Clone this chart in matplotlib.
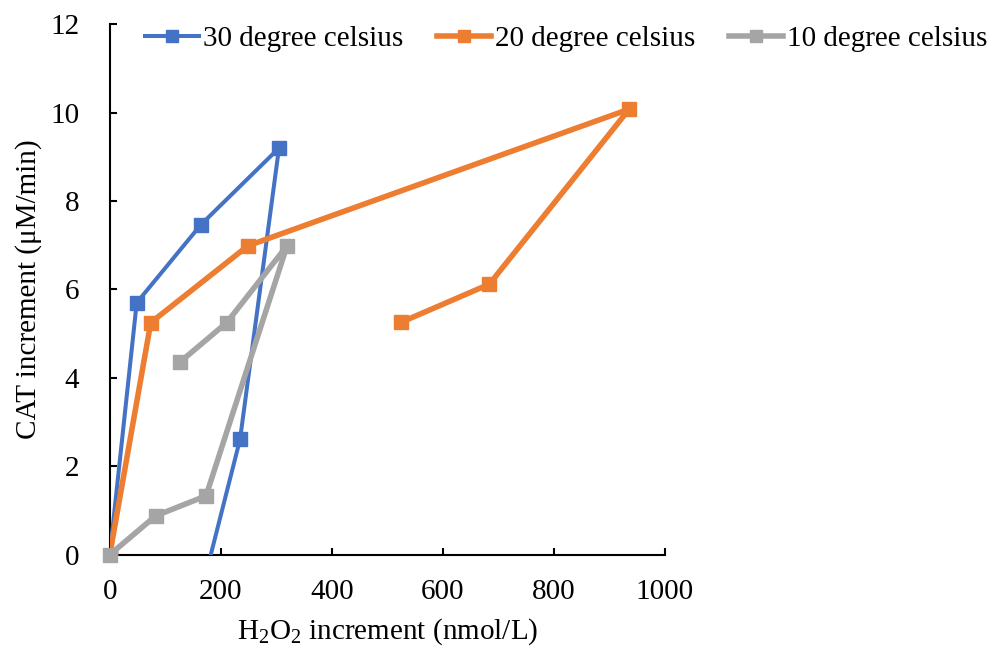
import matplotlib
matplotlib.use("Agg")
import matplotlib.pyplot as plt

plt.rcParams["font.family"] = ["Liberation Serif", "DejaVu Serif"]
plt.rcParams["mathtext.fontset"] = "custom"
plt.rcParams["mathtext.rm"] = "Liberation Serif"
plt.rcParams["mathtext.it"] = "Liberation Serif:italic"
plt.rcParams["mathtext.default"] = "rm"

# H2O2 increment (nmol/L) vs CAT increment (µM/min) for each temperature
h2o2_30 = [0, 48.6, 164.5, 305, 234.8, 172]
cat_30 = [0, 5.70, 7.47, 9.20, 2.61, -0.5]

h2o2_20 = [0, 73.9, 249.2, 936, 684, 525.4]
cat_20 = [0, 5.25, 6.99, 10.08, 6.12, 5.26]

h2o2_10 = [0, 82.9, 173.5, 319.5, 210.8, 126.7]
cat_10 = [0, 0.88, 1.33, 6.99, 5.25, 4.36]

series_labels = ["30 degree celsius", "20 degree celsius", "10 degree celsius"]
colors = ["#4472C4", "#ED7D31", "#A5A5A5"]

x_ticks = [0, 200, 400, 600, 800, 1000]
y_ticks = [0, 2, 4, 6, 8, 10, 12]

FS = 21

fig = plt.figure(figsize=(9.95, 6.48), dpi=100)
ax = fig.add_axes([0.1103, 0.144, 0.668 - 0.1103, 0.9625 - 0.144])

ax.plot(h2o2_30, cat_30, color=colors[0], lw=2.9, marker="s", ms=9.5,
        label=series_labels[0], clip_on=True, zorder=3)
ax.plot(h2o2_20, cat_20, color=colors[1], lw=4.0, marker="s", ms=9.5,
        label=series_labels[1], clip_on=True, zorder=3)
ax.plot(h2o2_10, cat_10, color=colors[2], lw=4.0, marker="s", ms=9.5,
        label=series_labels[2], clip_on=False, zorder=4)

ax.set_xlim(0, 1000)
ax.set_ylim(0, 12)
ax.set_xticks(x_ticks)
ax.set_yticks(y_ticks)

for side in ["top", "right"]:
    ax.spines[side].set_visible(False)
for side in ["left", "bottom"]:
    ax.spines[side].set_linewidth(1.5)
    ax.spines[side].set_color("black")

ax.tick_params(axis="both", direction="in", length=5, width=1.5,
               labelsize=FS, colors="black")
ax.tick_params(axis="x", pad=17.5)
ax.tick_params(axis="y", pad=22)

ax.set_xlabel("H$_2$O$_2$ increment (nmol/L)", fontsize=FS, labelpad=8.5)
ax.set_ylabel("CAT increment (μM/min)", fontsize=FS, labelpad=6)

fig.legend(loc="center", bbox_to_anchor=(0.569, 0.940), ncol=3,
           frameon=False, fontsize=FS, handlelength=1.85,
           handletextpad=0.14, columnspacing=1.15, borderpad=0,
           markerscale=0.9)

fig.savefig("out.png", dpi=100)
